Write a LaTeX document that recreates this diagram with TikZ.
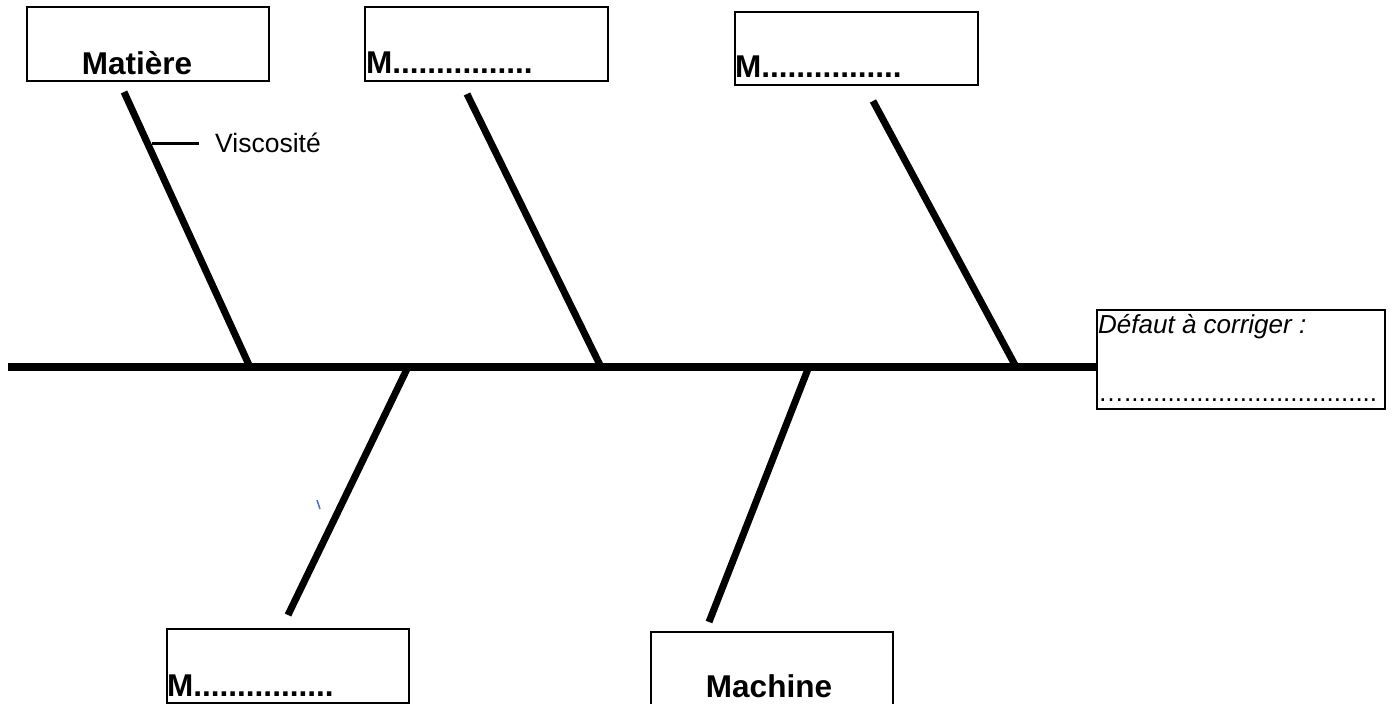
\documentclass[tikz,border=0pt]{standalone}
\usepackage{fontspec}
\setmainfont{Liberation Sans}
\definecolor{tickblue}{RGB}{68,114,196}
\tikzset{
  box/.style={draw=black, line width=2pt, rectangle, inner sep=0pt, anchor=north west},
  bone/.style={line width=7pt, line cap=butt},
  spineline/.style={line width=8pt},
  lbl/.style={inner sep=0pt, font=\fontsize{31.5}{37}\selectfont\bfseries},
  txt/.style={inner sep=0pt, font=\fontsize{26.5}{31}\selectfont},
}
\begin{document}
\begin{tikzpicture}[x=1pt,y=-1pt]
\useasboundingbox (0,0) rectangle (1395,704);
% boxes
\node[box, minimum width=242pt, minimum height=74pt] (b1) at (26,6) {};
\node[box, minimum width=243pt, minimum height=74pt] (b2) at (364,6) {};
\node[box, minimum width=243pt, minimum height=73pt] (b3) at (734,11) {};
\node[box, minimum width=242pt, minimum height=74pt] (b4) at (166,628) {};
\node[box, minimum width=242pt, minimum height=73pt] (b5) at (650,631) {};
\node[box, minimum width=288pt, minimum height=99pt] (eff) at (1096,309) {};
% labels
\node[lbl, anchor=base] (t1) at (137,74) {Matière};
\node[lbl, anchor=base west] (t2) at (366,73) {M................};
\node[lbl, anchor=base west] (t3) at (735,77) {M................};
\node[lbl, anchor=base west] (t4) at (167,696) {M................};
\node[lbl, anchor=base] (t5) at (769,697) {Machine};
\node[txt, anchor=base west, font=\fontsize{26}{31}\selectfont\itshape] (t6) at (1098,333) {Défaut à corriger :};
\node[txt, anchor=base west, font=\fontsize{26}{31}\selectfont] (t7) at (1098,401) {…...................................};
% spine
\coordinate (s0) at (8,367);
\coordinate (s1) at (1096,367);
\draw[spineline] (s0) -- (s1);
% branches
\coordinate (a1) at (124,92);  \coordinate (e1) at (249,365);
\coordinate (a2) at (467,94);  \coordinate (e2) at (600,365);
\coordinate (a3) at (873,101); \coordinate (e3) at (1015,365);
\coordinate (a4) at (288,615); \coordinate (e4) at (407,369);
\coordinate (a5) at (709,622); \coordinate (e5) at (808,369);
\draw[bone] (a1) -- (e1);
\draw[bone] (a2) -- (e2);
\draw[bone] (a3) -- (e3);
\draw[bone] (a4) -- (e4);
\draw[bone] (a5) -- (e5);
% sub-cause
\coordinate (v0) at (152,143);
\coordinate (v1) at (199,143);
\draw[line width=3pt] (v0) -- (v1);
\node[txt, anchor=base west] (visc) at (215,152) {Viscosité};
% stray blue tick
\coordinate (k0) at (317,500);
\coordinate (k1) at (320,509);
\draw[tickblue, line width=1.5pt] (k0) -- (k1);
\end{tikzpicture}
\end{document}
